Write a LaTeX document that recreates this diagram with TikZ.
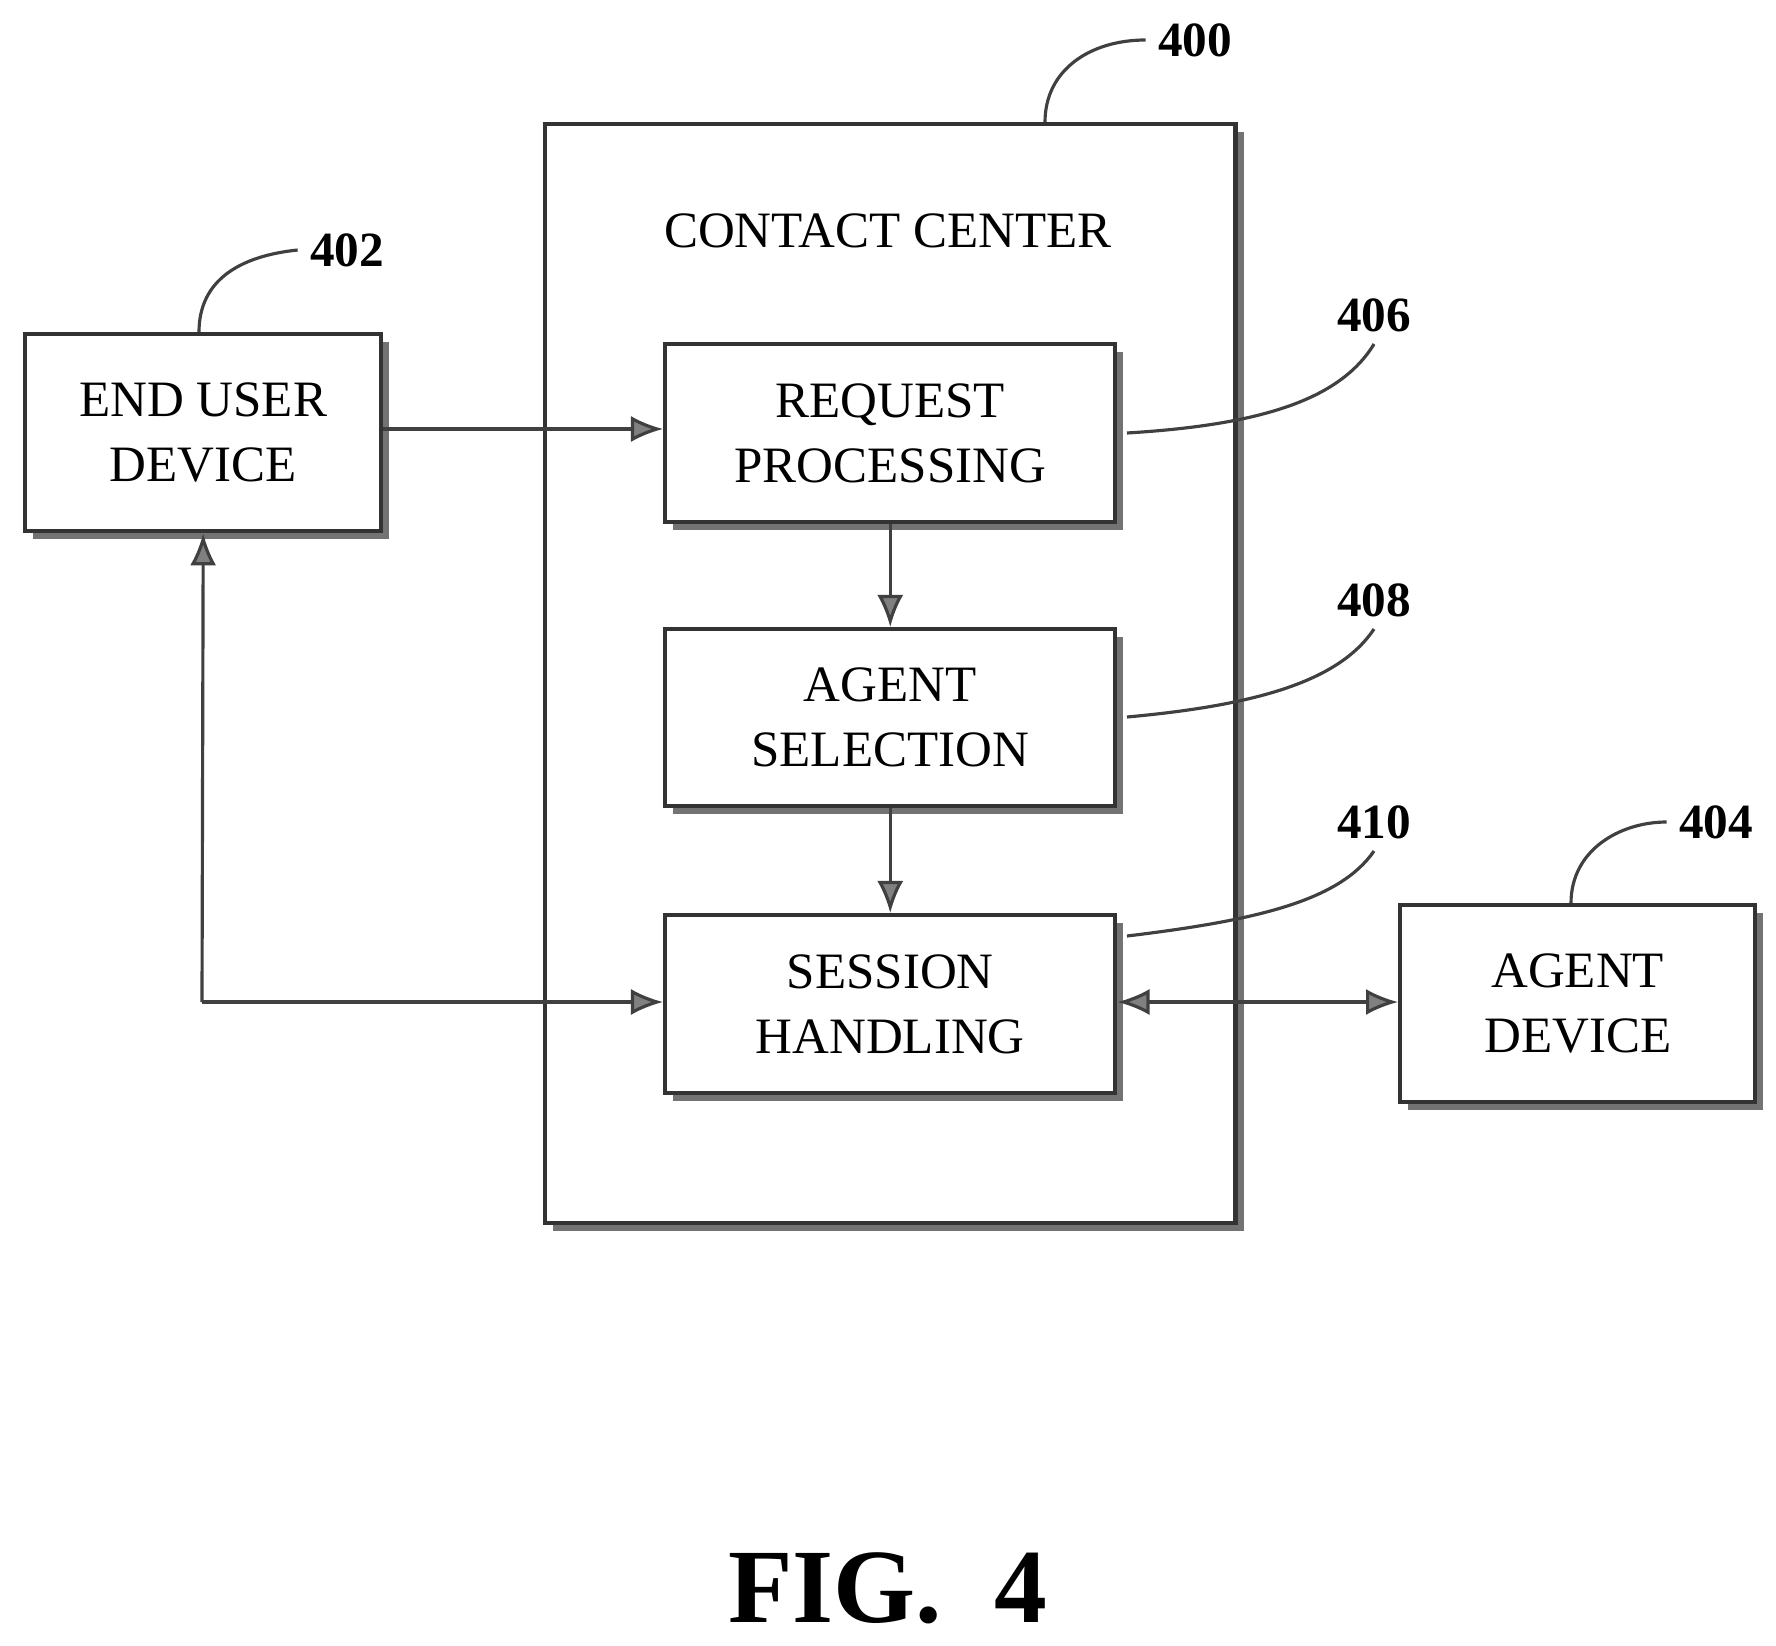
\documentclass[tikz,border=0pt]{standalone}
\usepackage{fontspec}
\setmainfont{Liberation Serif}
\usetikzlibrary{arrows.meta,shadows}
\begin{document}
\begin{tikzpicture}[x=0.01cm,y=-0.01cm,
 box/.style={draw=black!80,line width=1.2pt,fill=white,align=center,font=\fontsize{14.5}{18.5}\selectfont,inner sep=0,anchor=north west,
   drop shadow={shadow xshift=0.08cm,shadow yshift=-0.08cm,fill=black!55,opacity=1}},
 ln/.style={draw=black!75,line width=0.9pt},
 tip/.tip={Latex[length=0.32cm,width=0.26cm,fill=black!50]},
 arr/.style={ln,-tip},
 lab/.style={font=\bfseries\fontsize{14}{16}\selectfont}]
\useasboundingbox (0,0) rectangle (1776,1646);
\node[box,minimum width=6.9cm,minimum height=10.98cm] (cc) at (543,122) {};
\node[font=\fontsize{14.5}{18.5}\selectfont] (cct) at (888,231) {CONTACT CENTER};
\node[box,minimum width=3.56cm,minimum height=1.97cm] (eu) at (23,332) {END USER\\DEVICE};
\node[box,minimum width=4.5cm,minimum height=1.78cm] (rp) at (663,342) {REQUEST\\PROCESSING};
\node[box,minimum width=4.5cm,minimum height=1.77cm] (as) at (663,627) {AGENT\\SELECTION};
\node[box,minimum width=4.5cm,minimum height=1.78cm] (sh) at (663,913) {SESSION\\HANDLING};
\node[box,minimum width=3.55cm,minimum height=1.97cm] (ad) at (1398,903) {AGENT\\DEVICE};
\coordinate (c1) at (202,1002);
\coordinate (y1) at (0,429);
\draw[arr] (eu.east |- y1) -- (rp.west |- y1);
\draw[arr] (rp) -- (as);
\draw[arr] (as) -- (sh);
\draw[arr] (c1) -- (eu.south);
\draw[arr] (c1) -- (sh.west |- c1);
\draw[ln,tip-tip] (sh.east |- c1) -- (ad.west |- c1);
\node[lab] (l400) at (1195,40) {400};
\node[lab] (l402) at (347,250) {402};
\node[lab] (l406) at (1374,315) {406};
\node[lab] (l408) at (1374,600) {408};
\node[lab] (l410) at (1374,822) {410};
\node[lab] (l404) at (1716,822) {404};
\draw[ln] (1045,122) .. controls (1045,70) and (1090,40) .. (l400.west);
\draw[ln] (199,332) .. controls (199,280) and (240,256) .. (l402.west);
\draw[ln] (1127,433) .. controls (1260,425) and (1340,400) .. (l406.south);
\draw[ln] (1127,717) .. controls (1260,705) and (1340,680) .. (l408.south);
\draw[ln] (1127,936) .. controls (1260,920) and (1340,900) .. (l410.south);
\draw[ln] (1571,903) .. controls (1571,850) and (1620,822) .. (l404.west);
\node[font=\bfseries\fontsize{30}{34}\selectfont] (fig) at (888,1588) {FIG.\ \ 4};
\end{tikzpicture}
\end{document}
